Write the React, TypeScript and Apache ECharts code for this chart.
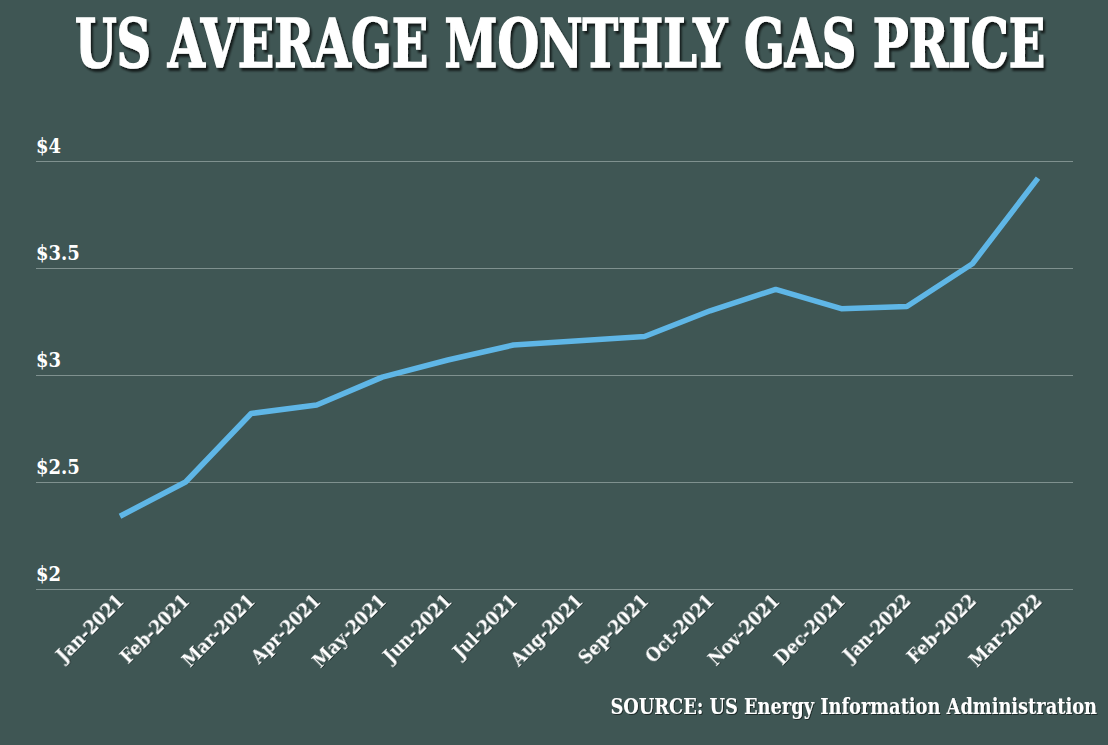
import React, { useEffect, useRef } from "react";
import * as echarts from "echarts";

const months = [
  "Jan-2021", "Feb-2021", "Mar-2021", "Apr-2021", "May-2021", "Jun-2021", "Jul-2021",
  "Aug-2021", "Sep-2021", "Oct-2021", "Nov-2021", "Dec-2021", "Jan-2022", "Feb-2022", "Mar-2022",
];
const prices = [2.34, 2.5, 2.82, 2.86, 2.99, 3.07, 3.14, 3.16, 3.18, 3.3, 3.4, 3.31, 3.32, 3.52, 3.92];
const yTicks = { min: 2, max: 4, step: 0.5 };
const titleText = "US AVERAGE MONTHLY GAS PRICE";
const sourceText = "SOURCE: US Energy Information Administration";

const FONT = "'DejaVu Serif Condensed', 'DejaVu Serif', serif";
const BG = "#3f5654";

export default function App() {
  const ref = useRef<HTMLDivElement>(null);
  useEffect(() => {
    const chart = echarts.init(ref.current!, null, { renderer: "svg" });
    chart.setOption({
      animation: false,
      backgroundColor: BG,
      grid: [
        { left: 36, right: 35, top: 161, bottom: 156 },
        { left: 120, right: 70, top: 161, bottom: 156 },
      ],
      xAxis: [
        { type: "category", gridIndex: 0, data: months, show: false },
        {
          type: "category",
          gridIndex: 1,
          data: months,
          boundaryGap: false,
          axisLine: { show: false },
          axisTick: { show: false },
          axisLabel: {
            rotate: 45,
            margin: 8,
            interval: 0,
            color: "#ffffff",
            fontFamily: FONT,
            fontWeight: "bold",
            fontSize: 19,
            textShadowColor: "rgba(0,0,0,0.4)",
            textShadowOffsetX: 1,
            textShadowOffsetY: 1,
            textShadowBlur: 1,
          },
        },
      ],
      yAxis: [
        {
          type: "value",
          gridIndex: 0,
          min: yTicks.min,
          max: yTicks.max,
          interval: yTicks.step,
          axisLine: { show: false },
          axisTick: { show: false },
          splitLine: { lineStyle: { color: "#7f918f", width: 1 } },
          axisLabel: {
            inside: true,
            margin: 0,
            verticalAlign: "bottom",
            padding: [0, 0, 5, 0],
            color: "#ffffff",
            fontFamily: FONT,
            fontWeight: "bold",
            fontSize: 20,
            formatter: (v: number) => "$" + v,
          },
        },
        {
          type: "value",
          gridIndex: 1,
          min: yTicks.min,
          max: yTicks.max,
          show: false,
          splitLine: { show: false },
        },
      ],
      series: [
        {
          type: "line",
          xAxisIndex: 1,
          yAxisIndex: 1,
          data: prices,
          symbol: "none",
          lineStyle: { color: "#5fb6e6", width: 5.5, join: "round" },
        },
      ],
      graphic: [
        {
          type: "text",
          x: 560,
          y: 43,
          scaleX: 0.78,
          style: {
            text: titleText,
            align: "center",
            verticalAlign: "middle",
            fill: "#ffffff",
            font: `bold 68px ${FONT}`,
            stroke: "#ffffff",
            lineWidth: 1.5,
            textShadowColor: "rgba(0,0,0,0.7)",
            textShadowOffsetX: 2,
            textShadowOffsetY: 3,
            textShadowBlur: 2,
          },
        },
        {
          type: "text",
          x: 1097,
          y: 706,
          scaleX: 0.86,
          style: {
            text: sourceText,
            align: "right",
            verticalAlign: "middle",
            fill: "#ffffff",
            font: `bold 23px ${FONT}`,
            textShadowColor: "rgba(0,0,0,0.5)",
            textShadowOffsetX: 1,
            textShadowOffsetY: 1,
            textShadowBlur: 1,
          },
        },
      ],
    });
    return () => chart.dispose();
  }, []);
  return (
    <div
      ref={ref}
      style={{ position: "fixed", left: 0, top: 0, width: 1108, height: 745 }}
    />
  );
}
